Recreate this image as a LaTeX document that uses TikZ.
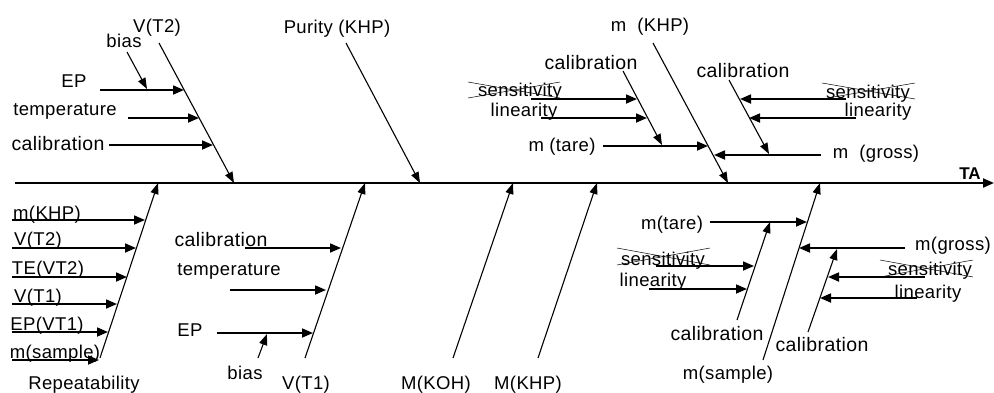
\documentclass[tikz,border=0pt]{standalone}
\usepackage{fontspec}
\setmainfont{Liberation Sans}[LetterSpace=2]
\newfontfamily\tafont{Liberation Sans}
\usetikzlibrary{arrows.meta}
\tikzset{
  lbl/.style={inner sep=0pt, text height=12pt, text depth=0pt, anchor=center, font=\fontsize{18.5}{20}\selectfont},
  cal/.style={lbl, font=\fontsize{19.5}{21}\selectfont},
  diag/.style={line width=1.1pt, -{Triangle[length=11pt,width=8pt]}},
  horz/.style={line width=1.7pt, -{Triangle[length=11pt,width=9pt]}},
  xout/.style={line width=0.5pt},
  spine/.style={line width=2pt, -{Triangle[length=11pt,width=9pt]}}
}
\begin{document}
\begin{tikzpicture}[x=1pt,y=-1pt]
\useasboundingbox (0,0) rectangle (994,392);
% ---------- spine ----------
\coordinate (s0) at (15,183);
\coordinate (s1) at (994,183);
\draw[spine] (s0) -- (s1);
\node[inner sep=0pt, anchor=center, font=\tafont\bfseries\fontsize{17}{19}\selectfont] (ta) at (970,174) {TA};

% ---------- top: V(T2) ----------
\node[lbl] (vt2) at (157,26) {V(T2)};
\coordinate (d1a) at (159,43); \coordinate (d1b) at (234,183);
\draw[diag] (d1a) -- (d1b);
\node[lbl] (bias1) at (124,41) {bias};
\coordinate (b1a) at (127,52); \coordinate (b1b) at (147,89);
\draw[diag] (b1a) -- (b1b);
\node[lbl] (ep1) at (74,81) {EP};
\coordinate (h1a) at (100,90); \coordinate (h1b) at (184,90);
\draw[horz] (h1a) -- (h1b);
\node[lbl] (temp1) at (65,109) {temperature};
\coordinate (h2a) at (128,118); \coordinate (h2b) at (199,118);
\draw[horz] (h2a) -- (h2b);
\node[cal] (cal1) at (58,144) {calibration};
\coordinate (h3a) at (109,145); \coordinate (h3b) at (213,145);
\draw[horz] (h3a) -- (h3b);

% ---------- top: Purity ----------
\node[lbl] (pur) at (337,27) {Purity (KHP)};
\coordinate (d2a) at (346,43); \coordinate (d2b) at (420,183);
\draw[diag] (d2a) -- (d2b);

% ---------- top: m (KHP) ----------
\node[lbl] (mkhp) at (650,25) {m\ \ (KHP)};
\coordinate (d3a) at (653,43); \coordinate (d3b) at (728,183);
\draw[diag] (d3a) -- (d3b);
\node[cal] (cal2) at (591,63) {calibration};
\coordinate (d4a) at (623,71); \coordinate (d4b) at (662,145);
\draw[diag] (d4a) -- (d4b);
\node[lbl] (sens1) at (520,90) {sensitivity};
\draw[xout] (468,82) -- (560,98);
\draw[xout] (468,98) -- (560,82);
\coordinate (h4a) at (531,99); \coordinate (h4b) at (637,99);
\draw[horz] (h4a) -- (h4b);
\node[lbl] (lin1) at (524,110) {linearity};
\coordinate (h5a) at (541,118); \coordinate (h5b) at (647,118);
\draw[horz] (h5a) -- (h5b);
\node[lbl] (tare1) at (562,145) {m (tare)};
\coordinate (h6a) at (603,146); \coordinate (h6b) at (708,146);
\draw[horz] (h6a) -- (h6b);

\node[cal] (cal3) at (743,71) {calibration};
\coordinate (d5a) at (729,80); \coordinate (d5b) at (769,154);
\draw[diag] (d5a) -- (d5b);
\node[lbl] (sens2) at (868,92) {sensitivity};
\draw[xout] (822,83) -- (915,99);
\draw[xout] (822,99) -- (915,83);
\coordinate (h7a) at (846,99); \coordinate (h7b) at (740,99);
\draw[horz] (h7a) -- (h7b);
\node[lbl] (lin2) at (878,110) {linearity};
\coordinate (h8a) at (856,118); \coordinate (h8b) at (749,118);
\draw[horz] (h8a) -- (h8b);
\node[lbl] (gross1) at (876,152) {m\ \ (gross)};
\coordinate (h9a) at (821,155); \coordinate (h9b) at (714,155);
\draw[horz] (h9a) -- (h9b);

% ---------- bottom: Repeatability ----------
\node[lbl] (rep) at (84,383) {Repeatability};
\coordinate (d6a) at (100,358); \coordinate (d6b) at (158,183);
\draw[diag] (d6a) -- (d6b);
\node[lbl] (r1) at (47,213) {m(KHP)};
\node[lbl] (r2) at (38,239) {V(T2)};
\node[lbl] (r3) at (48,268) {TE(VT2)};
\node[lbl] (r4) at (38,296) {V(T1)};
\node[lbl] (r5) at (47,324) {EP(VT1)};
\node[lbl] (r6) at (55,352) {m(sample)};
\coordinate (l1a) at (12,220); \coordinate (l1b) at (145,220);
\coordinate (l2a) at (12,248); \coordinate (l2b) at (136,248);
\coordinate (l3a) at (12,277); \coordinate (l3b) at (127,277);
\coordinate (l4a) at (12,304); \coordinate (l4b) at (117,304);
\coordinate (l5a) at (12,332); \coordinate (l5b) at (108,332);
\coordinate (l6a) at (12,360); \coordinate (l6b) at (99,360);
\foreach \i in {1,...,6} {\draw[horz] (l\i a) -- (l\i b);}

% ---------- bottom: V(T1) ----------
\node[lbl] (vt1) at (306,383) {V(T1)};
\coordinate (d7a) at (305,358); \coordinate (d7b) at (365,183);
\draw[diag] (d7a) -- (d7b);
\node[cal] (cal4) at (221,240) {calibration};
\coordinate (h10a) at (245,248); \coordinate (h10b) at (341,248);
\draw[horz] (h10a) -- (h10b);
\node[lbl] (temp2) at (229,269) {temperature};
\coordinate (h11a) at (230,290); \coordinate (h11b) at (326,290);
\draw[horz] (h11a) -- (h11b);
\node[lbl] (ep2) at (190,330) {EP};
\coordinate (h12a) at (217,333); \coordinate (h12b) at (313,333);
\draw[horz] (h12a) -- (h12b);
\node[lbl] (bias2) at (245,373) {bias};
\coordinate (b2a) at (258,358); \coordinate (b2b) at (267,334);
\draw[diag] (b2a) -- (b2b);

% ---------- bottom: M(KOH), M(KHP) ----------
\node[lbl] (mkoh) at (436,383) {M(KOH)};
\coordinate (d8a) at (453,358); \coordinate (d8b) at (513,183);
\draw[diag] (d8a) -- (d8b);
\node[lbl] (mkhp2) at (528,383) {M(KHP)};
\coordinate (d9a) at (538,358); \coordinate (d9b) at (597,183);
\draw[diag] (d9a) -- (d9b);

% ---------- bottom: m(sample) ----------
\node[lbl] (msam) at (728,373) {m(sample)};
\coordinate (d10a) at (763,360); \coordinate (d10b) at (820,183);
\draw[diag] (d10a) -- (d10b);
\node[lbl] (tare2) at (672,223) {m(tare)};
\coordinate (h13a) at (710,222); \coordinate (h13b) at (807,222);
\draw[horz] (h13a) -- (h13b);
\node[cal] (cal5) at (717,334) {calibration};
\coordinate (d11a) at (737,320); \coordinate (d11b) at (770,222);
\draw[diag] (d11a) -- (d11b);
\node[lbl] (sens3) at (663,259) {sensitivity};
\draw[xout] (617,248) -- (710,265);
\draw[xout] (617,265) -- (710,248);
\coordinate (h14a) at (656,266); \coordinate (h14b) at (754,266);
\draw[horz] (h14a) -- (h14b);
\node[lbl] (lin3) at (653,280) {linearity};
\coordinate (h15a) at (649,289); \coordinate (h15b) at (747,289);
\draw[horz] (h15a) -- (h15b);

\node[cal] (cal6) at (822,345) {calibration};
\coordinate (d12a) at (808,332); \coordinate (d12b) at (837,249);
\draw[diag] (d12a) -- (d12b);
\node[lbl] (gross2) at (953,244) {m(gross)};
\coordinate (h16a) at (905,248); \coordinate (h16b) at (799,248);
\draw[horz] (h16a) -- (h16b);
\node[lbl] (sens4) at (930,269) {sensitivity};
\draw[xout] (880,260) -- (973,277);
\draw[xout] (880,277) -- (973,260);
\coordinate (h17a) at (925,277); \coordinate (h17b) at (828,277);
\draw[horz] (h17a) -- (h17b);
\node[lbl] (lin4) at (928,292) {linearity};
\coordinate (h18a) at (917,298); \coordinate (h18b) at (820,298);
\draw[horz] (h18a) -- (h18b);
\end{tikzpicture}
\end{document}
